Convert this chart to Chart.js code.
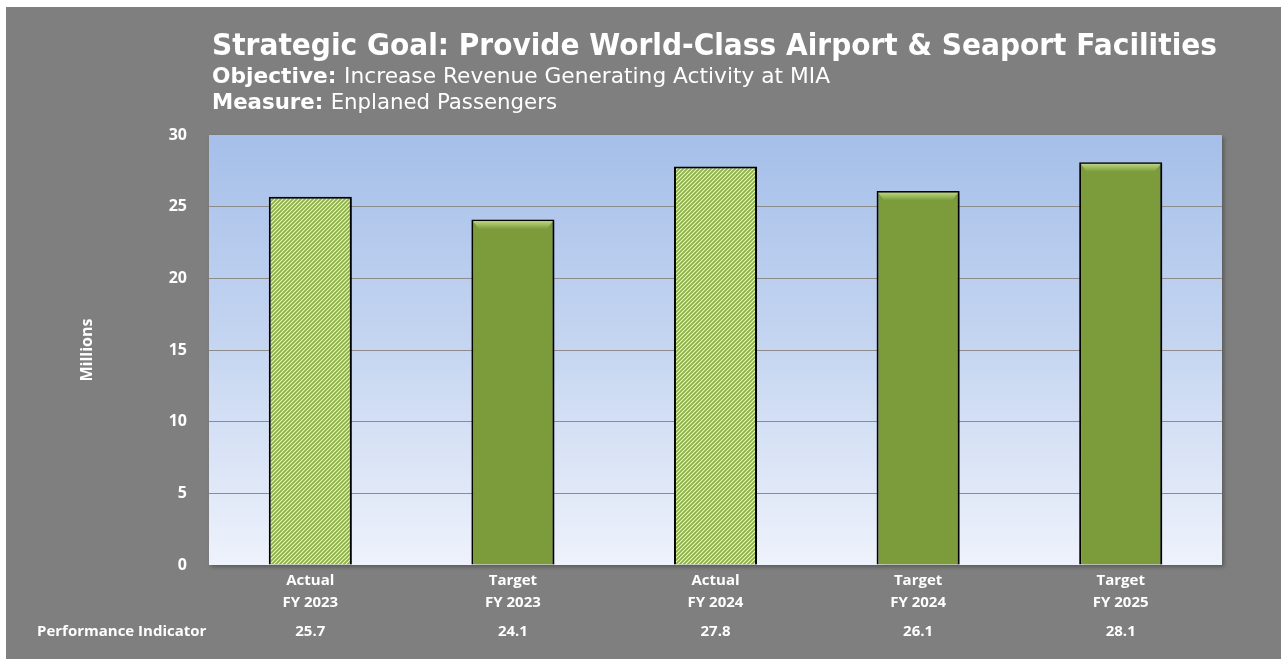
<!DOCTYPE html>
<html>
<head>
<meta charset="utf-8">
<title>Enplaned Passengers</title>
<script src="https://cdn.jsdelivr.net/npm/chart.js@4.4.1/dist/chart.umd.min.js"></script>
<style>
  html, body { margin: 0; padding: 0; background: #ffffff; }
  #wrap { width: 1287px; height: 660px; }
</style>
</head>
<body>
<div id="wrap"><canvas id="paxChart" width="1287" height="660"></canvas></div>
<script>
// Enplaned passengers at MIA, millions
const categories = [
    ['Actual', 'FY 2023'],
    ['Target', 'FY 2023'],
    ['Actual', 'FY 2024'],
    ['Target', 'FY 2024'],
    ['Target', 'FY 2025']
];
const enplaned = [25.7, 24.1, 27.8, 26.1, 28.1];
const yMin = 0;
const yMax = 30;
const yStep = 5;

const titleText = 'Strategic Goal: Provide World-Class Airport & Seaport Facilities';
const objectiveLine = [['Objective: ', 'bold'], ['Increase Revenue Generating Activity at MIA', 'normal']];
const measureLine = [['Measure: ', 'bold'], ['Enplaned Passengers', 'normal']];
const rowLabel = 'Performance Indicator';

const FONT = "'DejaVu Sans', Verdana, sans-serif";
const LABEL_FONT = "'Open Sans', 'Noto Sans', sans-serif";
const SOLID_GREEN = '#7c9c3b';

// diagonal hatch used for the actual-year bars
function makeHatch() {
    const c = document.createElement('canvas');
    c.width = 4;
    c.height = 4;
    const g = c.getContext('2d');
    g.fillStyle = '#eef5dd';
    g.fillRect(0, 0, 4, 4);
    g.strokeStyle = '#8bb23c';
    g.lineWidth = 1.8;
    g.beginPath();
    g.moveTo(-1, 5); g.lineTo(5, -1);
    g.moveTo(-1, 1); g.lineTo(1, -1);
    g.moveTo(3, 5); g.lineTo(5, 3);
    g.stroke();
    return g.createPattern(c, 'repeat');
}
const hatch = makeHatch();

function isActual(i) {
    return categories[i][0] === 'Actual';
}

// draws a run of bold/normal text squeezed to a given width
function drawFitted(ctx, parts, x, baseline, size, targetWidth) {
    ctx.save();
    let total = 0;
    parts.forEach(p => {
        ctx.font = p[1] + ' ' + size + 'px ' + FONT;
        total += ctx.measureText(p[0]).width;
    });
    ctx.translate(x, baseline);
    ctx.scale(targetWidth / total, 1);
    ctx.fillStyle = '#ffffff';
    ctx.textAlign = 'left';
    ctx.textBaseline = 'alphabetic';
    let cx = 0;
    parts.forEach(p => {
        ctx.font = p[1] + ' ' + size + 'px ' + FONT;
        ctx.fillText(p[0], cx, 0);
        cx += ctx.measureText(p[0]).width;
    });
    ctx.restore();
}

const backdrop = {
    id: 'backdrop',
    beforeDraw(chart) {
        const ctx = chart.ctx;
        const a = chart.chartArea;
        ctx.save();
        ctx.fillStyle = '#ffffff';
        ctx.fillRect(0, 0, chart.width, chart.height);
        ctx.fillStyle = '#7f7f7f';
        ctx.fillRect(6, 7, 1275, 652);
        // plot area with soft shadow and blue-to-white fill
        ctx.shadowColor = 'rgba(0,0,0,0.3)';
        ctx.shadowBlur = 4;
        ctx.shadowOffsetX = 2;
        ctx.shadowOffsetY = 2;
        const grad = ctx.createLinearGradient(0, a.top, 0, a.bottom);
        grad.addColorStop(0, '#a5bfe9');
        grad.addColorStop(0.5, '#c6d6f1');
        grad.addColorStop(1, '#eef2fb');
        ctx.fillStyle = grad;
        ctx.fillRect(a.left, a.top, a.right - a.left, a.bottom - a.top);
        ctx.restore();
    },
    beforeDatasetsDraw(chart) {
        const ctx = chart.ctx;
        ctx.save();
        ctx.shadowColor = 'rgba(0,0,0,0.35)';
        ctx.shadowBlur = 3;
        ctx.shadowOffsetX = 3;
        ctx.shadowOffsetY = 2;
    },
    afterDatasetsDraw(chart) {
        const ctx = chart.ctx;
        ctx.restore();
        // bevel highlight along the top of the solid bars
        const meta = chart.getDatasetMeta(0);
        meta.data.forEach((bar, i) => {
            if (isActual(i)) return;
            const half = bar.width / 2;
            const left = bar.x - half + 1.5;
            const right = bar.x + half - 1.5;
            const top = bar.y + 1.5;
            const g = ctx.createLinearGradient(0, top, 0, top + 8);
            g.addColorStop(0, 'rgba(200,225,140,0.85)');
            g.addColorStop(1, 'rgba(200,225,140,0)');
            ctx.save();
            ctx.fillStyle = g;
            ctx.beginPath();
            ctx.moveTo(left, top);
            ctx.lineTo(right, top);
            ctx.lineTo(right - 6, top + 8);
            ctx.lineTo(left + 6, top + 8);
            ctx.closePath();
            ctx.fill();
            ctx.restore();
        });
    },
    afterDraw(chart) {
        const ctx = chart.ctx;
        drawFitted(ctx, [[titleText, 'bold']], 212, 55, 30, 1005);
        drawFitted(ctx, objectiveLine, 212, 83, 21, 618);
        drawFitted(ctx, measureLine, 212, 109, 21, 345);

        // performance indicator row under the category labels
        const xs = chart.scales.x;
        ctx.save();
        ctx.fillStyle = '#ffffff';
        ctx.font = 'bold 15px ' + LABEL_FONT;
        ctx.textBaseline = 'middle';
        ctx.textAlign = 'left';
        ctx.fillText(rowLabel, 37, 632);
        ctx.textAlign = 'center';
        enplaned.forEach((v, i) => {
            ctx.fillText(v.toFixed(1), xs.getPixelForValue(i), 632);
        });
        ctx.restore();
    }
};

new Chart(document.getElementById('paxChart'), {
    type: 'bar',
    data: {
        labels: categories,
        datasets: [{
            label: 'Enplaned Passengers',
            data: enplaned,
            backgroundColor: ctx => isActual(ctx.dataIndex) ? hatch : SOLID_GREEN,
            borderColor: '#000000',
            borderWidth: 2,
            borderSkipped: 'bottom',
            categoryPercentage: 1,
            barPercentage: 0.41
        }]
    },
    options: {
        responsive: false,
        animation: false,
        devicePixelRatio: 1,
        layout: { padding: { top: 135, right: 65, left: 0, bottom: 0 } },
        plugins: {
            legend: { display: false },
            tooltip: { enabled: false }
        },
        scales: {
            x: {
                grid: { display: false },
                border: { display: false },
                ticks: {
                    color: '#ffffff',
                    padding: -3,
                    maxRotation: 0,
                    font: { family: LABEL_FONT, size: 15, weight: 'bold', lineHeight: 1.45 }
                },
                afterFit(scale) { scale.height = 95; }
            },
            y: {
                min: yMin,
                max: yMax,
                grid: {
                    drawTicks: false,
                    lineWidth: 1,
                    color: ctx => (ctx.tick.value === yMin || ctx.tick.value === yMax) ? 'rgba(0,0,0,0)' : '#8c8c8c'
                },
                border: { display: false },
                ticks: {
                    stepSize: yStep,
                    color: '#ffffff',
                    padding: 22,
                    font: { family: LABEL_FONT, size: 16, weight: 'bold' }
                },
                title: {
                    display: true,
                    text: 'Millions',
                    color: '#ffffff',
                    padding: { top: 78, bottom: 0 },
                    font: { family: LABEL_FONT, size: 16, weight: 'bold' }
                },
                afterFit(scale) { scale.width = 209; }
            }
        }
    },
    plugins: [backdrop]
});
</script>
</body>
</html>
